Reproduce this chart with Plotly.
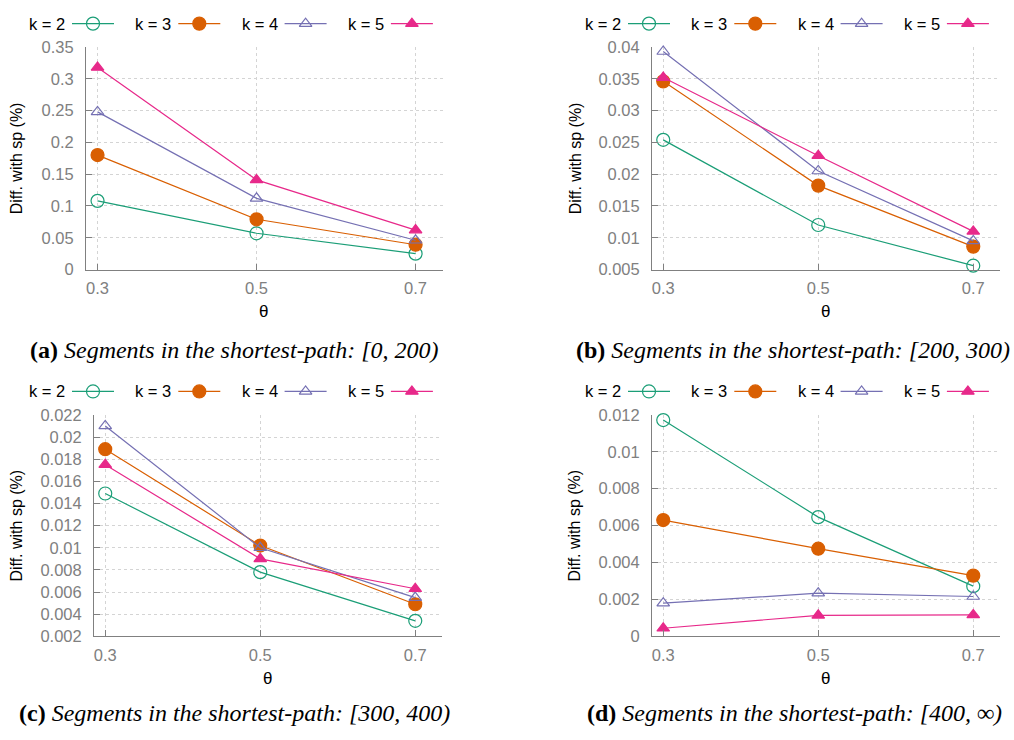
import plotly.graph_objects as go

# ---------------- data ----------------
theta = [0.3, 0.5, 0.7]
series_names = ["k = 2", "k = 3", "k = 4", "k = 5"]

a_k2 = [0.108, 0.057, 0.025]
a_k3 = [0.180, 0.079, 0.039]
a_k4 = [0.248, 0.112, 0.046]
a_k5 = [0.318, 0.141, 0.062]

b_k2 = [0.0254, 0.0120, 0.0056]
b_k3 = [0.0346, 0.0182, 0.0086]
b_k4 = [0.0393, 0.0205, 0.0095]
b_k5 = [0.0352, 0.0229, 0.0110]

c_k2 = [0.0149, 0.0078, 0.0034]
c_k3 = [0.0189, 0.0102, 0.0049]
c_k4 = [0.0210, 0.0100, 0.0055]
c_k5 = [0.0175, 0.0090, 0.0063]

d_k2 = [0.01172, 0.00646, 0.00272]
d_k3 = [0.00630, 0.00475, 0.00329]
d_k4 = [0.00180, 0.00234, 0.00216]
d_k5 = [0.00044, 0.00114, 0.00116]

panel_data = [
    [a_k2, a_k3, a_k4, a_k5],
    [b_k2, b_k3, b_k4, b_k5],
    [c_k2, c_k3, c_k4, c_k5],
    [d_k2, d_k3, d_k4, d_k5],
]
captions = [
    ("(a)", "Segments in the shortest-path: [0, 200)"),
    ("(b)", "Segments in the shortest-path: [200, 300)"),
    ("(c)", "Segments in the shortest-path: [300, 400)"),
    ("(d)", "Segments in the shortest-path: [400, \u221e)"),
]
y_ranges = [(0, 0.35, 0.05), (0.005, 0.04, 0.005), (0.002, 0.022, 0.002), (0, 0.012, 0.002)]
x_label = "\u03b8"
y_label = "Diff. with sp (%)"

# ---------------- style ----------------
W, H = 1014, 740
colors = ["#1b9e77", "#d95f02", "#7570b3", "#e7298a"]
symbols = ["circle-open", "circle", "triangle-up-open", "triangle-up"]
msizes = [13, 13, 11, 11]
grey = "#808080"
FONT = "Liberation Sans, Arial, sans-serif"
SERIF = "Liberation Serif, Times New Roman, serif"

# plot areas in pixels: (left, right, top, bottom)
areas = [(86, 443, 39, 267), (652, 1000, 39, 267), (94, 442, 416, 643), (652, 1000, 416, 643)]
legend_pos = [(27, 15), (583, 15), (27, 392), (583, 392)]
xtitle_pos = [(263, 310), (825, 310), (267, 686), (825, 686)]
ytitle_x = [16, 575, 17, 575]
caption_pos = [(234.5, 349), (792.5, 349), (234.5, 722), (794.5, 722)]


def px(x):
    return x / W


def py(y):
    return 1 - y / H


fig = go.Figure()
layout = dict(
    width=W, height=H, margin=dict(l=0, r=0, t=0, b=0),
    paper_bgcolor="white", plot_bgcolor="rgba(0,0,0,0)",
    showlegend=False, font=dict(family=FONT, size=16, color="black"),
)
annotations = []

for i in range(4):
    n = i + 1
    xa = "x" if n == 1 else f"x{n}"
    ya = "y" if n == 1 else f"y{n}"
    l, r, t, b = areas[i]
    ymin, ymax, dy = y_ranges[i]
    common = dict(
        showline=True, linecolor=grey, linewidth=1, mirror=False,
        ticks="inside", ticklen=6, tickcolor=grey, tickwidth=1,
        showgrid=True, gridcolor="#d4d4d4", gridwidth=1, griddash="dot",
        zeroline=False, tickfont=dict(family=FONT, size=16.5, color=grey),
    )
    layout["xaxis" if n == 1 else f"xaxis{n}"] = dict(
        domain=[px(l), px(r)], anchor=ya, range=[0.2855, 0.7345],
        tickvals=theta, ticktext=["0.3", "0.5", "0.7"], ticklabelstandoff=4, **common)
    layout["yaxis" if n == 1 else f"yaxis{n}"] = dict(
        domain=[py(b), py(t)], anchor=xa, range=[ymin, ymax],
        tick0=ymin, dtick=dy, ticklabelstandoff=8, **common)

    for s in range(4):
        fig.add_trace(go.Scatter(
            x=theta, y=panel_data[i][s], mode="lines+markers", name=series_names[s],
            xaxis=xa, yaxis=ya, cliponaxis=False,
            line=dict(color=colors[s], width=1.2),
            marker=dict(symbol=symbols[s], size=msizes[s], color=colors[s],
                        line=dict(color=colors[s], width=1.2)),
        ))

    # legend (text, then line sample with marker)
    lx, ly = legend_pos[i]
    for s in range(4):
        tx = lx + 106.3 * s
        annotations.append(dict(
            x=px(tx), y=py(ly), xref="paper", yref="paper", xanchor="left", yanchor="middle",
            text=series_names[s], showarrow=False, font=dict(family=FONT, size=16.5, color="black")))
        fig.add_trace(go.Scatter(
            x=[tx + 45, tx + 87], y=[ly, ly], mode="lines",
            xaxis="x5", yaxis="y5", cliponaxis=False, hoverinfo="skip",
            line=dict(color=colors[s], width=1.2)))
        fig.add_trace(go.Scatter(
            x=[tx + 66], y=[ly], mode="markers",
            xaxis="x5", yaxis="y5", cliponaxis=False, hoverinfo="skip",
            marker=dict(symbol=symbols[s], size=msizes[s], color=colors[s],
                        line=dict(color=colors[s], width=1.2))))

    # axis titles
    xt, yt = xtitle_pos[i]
    annotations.append(dict(x=px(xt), y=py(yt), xref="paper", yref="paper",
                            xanchor="center", yanchor="middle",
                            text=x_label, showarrow=False,
                            font=dict(family=FONT, size=17, color="black")))
    annotations.append(dict(x=px(ytitle_x[i]), y=py((t + b) / 2), xref="paper", yref="paper",
                            xanchor="center", yanchor="middle",
                            text=y_label, textangle=-90, showarrow=False,
                            font=dict(family=FONT, size=16, color="black")))
    # caption
    cx, cy = caption_pos[i]
    annotations.append(dict(x=px(cx), y=py(cy), xref="paper", yref="paper",
                            xanchor="center", yanchor="middle",
                            text=f"<b>{captions[i][0]}</b> <i>{captions[i][1]}</i>",
                            showarrow=False, font=dict(family=SERIF, size=24, color="black")))

# overlay axis in pixel units for legend samples
layout["xaxis5"] = dict(domain=[0, 1], range=[0, W], visible=False, anchor="y5", fixedrange=True)
layout["yaxis5"] = dict(domain=[0, 1], range=[H, 0], visible=False, anchor="x5", fixedrange=True)
layout["annotations"] = annotations

fig.update_layout(**layout)
fig.write_html("out.html", config={"displayModeBar": False},
               post_script="document.body.style.margin='0px';")
